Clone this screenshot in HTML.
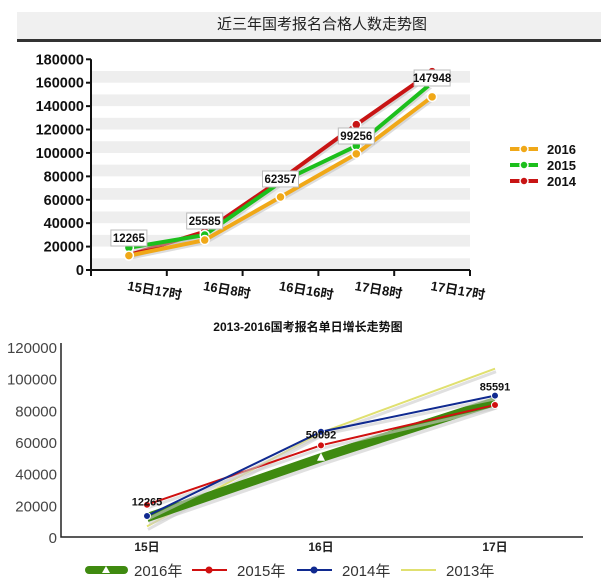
<!DOCTYPE html>
<html><head><meta charset="utf-8"><style>
body{margin:0;background:#fff;}
svg text{font-family:"Liberation Sans","Noto Sans CJK SC",sans-serif;}
</style></head><body>
<svg id="s" width="601" height="582" xmlns="http://www.w3.org/2000/svg">
<rect x="17" y="12" width="584" height="28" fill="#f0f0f0"/>
<rect x="17" y="39" width="584" height="3" fill="#333"/>
<text x="322" y="29" text-anchor="middle" font-size="15" fill="#222">近三年国考报名合格人数走势图</text>
<g id="top"></g>
<text x="308" y="331" text-anchor="middle" font-size="12" font-weight="bold" fill="#111">2013-2016国考报名单日增长走势图</text>
<g id="bot"></g>
</svg>
<script>
// top chart data
const topCats = ["15日17时","16日8时","16日16时","17日8时","17日17时"];
const topYTicks = [0,20000,40000,60000,80000,100000,120000,140000,160000,180000];
const s2016 = [12265,25585,62357,99256,147948];
const s2015 = [19000,29900,75000,106000,160000];
const s2014 = [12800,32700,77000,124200,169500];
const topSeriesNames = ["2016","2015","2014"];
// bottom chart data
const botCats = ["15日","16日","17日"];
const botYTicks = [0,20000,40000,60000,80000,100000,120000];
const b2016 = [12265,50092,85591];
const b2015 = [20400,57900,83400];
const b2014 = [13300,66500,89300];
const b2013 = [6700,65900,106300];
const botSeriesNames = ["2016年","2015年","2014年","2013年"];

const NS="http://www.w3.org/2000/svg";
function mk(p,t,a,txt){const e=document.createElementNS(NS,t);for(const k in a)e.setAttribute(k,a[k]);if(txt!==undefined)e.textContent=txt;p.appendChild(e);return e;}

// ---- top ----
const T=document.getElementById('top');
const tx0=91,tx1=470,ty0=270,ty1=59.3;
const tY=v=>ty0-(v/180000)*(ty0-ty1);
const bw=(tx1-tx0)/topCats.length;
const tX=i=>tx0+bw*(i+0.5);
for(let v=0;v<170000;v+=20000){
 const r=mk(T,'rect',{x:tx0,y:tY(v+10000),width:tx1-tx0,height:tY(v)-tY(v+10000),fill:'#eeeeee'});
 
 
}
let ax=mk(T,'path',{d:`M${tx0} ${ty1}V${ty0}H${tx1}`,stroke:'#111','stroke-width':2,fill:'none'});


topYTicks.forEach(v=>{
 mk(T,'line',{x1:tx0-5,x2:tx0,y1:tY(v),y2:tY(v),stroke:'#111','stroke-width':2});
 const t=mk(T,'text',{x:84,y:tY(v)+5,'text-anchor':'end','font-size':14.5,'font-weight':'bold',fill:'#111'},String(v));
 
 
});
for(let i=0;i<=topCats.length;i++){mk(T,'line',{x1:tx0+bw*i,x2:tx0+bw*i,y1:ty0,y2:ty0+6,stroke:'#111','stroke-width':2});}
topCats.forEach((c,i)=>{
 const t=mk(T,'text',{x:tX(i)-2,y:290,'font-size':13,'font-weight':'bold',fill:'#111',transform:`rotate(10 ${tX(i)-2} 290)`},c);
 
 
});
const tcol=['#f0a818','#1cbf1c','#c81414'];
const tdata=[s2016,s2015,s2014];
[2,1,0].forEach(k=>{
 const d=tdata[k].map((v,i)=>(i?'L':'M')+tX(i)+' '+tY(v)).join('');
 mk(T,'path',{d,stroke:'#bbb','stroke-width':4,fill:'none',transform:'translate(1,2)',opacity:.5});
 const p=mk(T,'path',{d,stroke:tcol[k],'stroke-width':4,fill:'none'});
 
 
 tdata[k].forEach((v,i)=>{
  const c=mk(T,'circle',{cx:tX(i),cy:tY(v),r:4.5,fill:tcol[k],stroke:'#fff','stroke-width':1.5});
  
  
 });
});
s2016.forEach((v,i)=>{
 const cx=tX(i);
 const yy=[238,221,179,136,78][i];
 const g=mk(T,'g',{});
 
 
 mk(g,'rect',{x:cx-18,y:yy-8,width:36,height:16,fill:'#fff',stroke:'#bbb','stroke-width':1});
 mk(g,'text',{x:cx,y:yy+4,'text-anchor':'middle','font-size':11.5,'font-weight':'bold',fill:'#111'},String(v));
});
topSeriesNames.forEach((n,k)=>{
 const y=149+16*k;
 const g=mk(T,'g',{});
 
 
 mk(g,'line',{x1:510,x2:538,y1:y,y2:y,stroke:tcol[k],'stroke-width':4});
 mk(g,'circle',{cx:524,cy:y,r:4,fill:tcol[k],stroke:'#fff','stroke-width':1.5});
 mk(g,'text',{x:547,y:y+5,'font-size':13,'font-weight':'bold',fill:'#111'},n);
});

// ---- bottom ----
const B=document.getElementById('bot');
const bx0=61,bx1=583,by0=537,by1=347;
const bY=v=>by0-(v/120000)*(by0-by1);
const bXs=[147,321,495];
const bX=i=>bXs[0]+(bXs[2]-bXs[0])/(botCats.length-1)*i;
let bax=mk(B,'path',{d:`M${bx0} ${by1-4}V${by0}H${bx1}`,stroke:'#222','stroke-width':1.5,fill:'none'});


botYTicks.forEach(v=>{
 const t=mk(B,'text',{x:57,y:bY(v)+6,'text-anchor':'end','font-size':15,fill:'#444'},String(v));
 
 
});
botCats.forEach((c,i)=>{
 const t=mk(B,'text',{x:bX(i),y:551,'text-anchor':'middle','font-size':12,'font-weight':'bold',fill:'#222'},c);
 
 
});
const bcol=['#3f8a10','#d01010','#102a90','#e0e070'];
const bw2=[9,2,2,2];
const bdata=[b2016,b2015,b2014,b2013];
[3,0,1,2].forEach(k=>{
 const d=bdata[k].map((v,i)=>(i?'L':'M')+bX(i)+' '+bY(v)).join('');
 mk(B,'path',{d,stroke:'#ccc','stroke-width':bw2[k]+1,fill:'none',transform:'translate(1,3)',opacity:.6});
 const p=mk(B,'path',{d,stroke:bcol[k],'stroke-width':bw2[k],fill:'none'});
 
 
 if(k==1||k==2) bdata[k].forEach((v,i)=>{
  const c=mk(B,'circle',{cx:bX(i),cy:bY(v),r:3.5,fill:bcol[k],stroke:'#fff','stroke-width':1});
  
  
 });
});
const tri=mk(B,'path',{d:`M${bX(1)} ${bY(b2016[1])-5}l4 8h-8z`,fill:'#fff'});


const lblY=[bY(b2015[0])+1,bY(b2015[1])-7,bY(b2014[2])-5];
b2016.forEach((v,i)=>{
 const t=mk(B,'text',{x:bX(i),y:lblY[i],'text-anchor':'middle','font-size':11,'font-weight':'bold',fill:'#111'},String(v));
 
 
});
const lx=[89,192,297,401];
botSeriesNames.forEach((n,k)=>{
 const g=mk(B,'g',{});
 
 
 const y=570;
 mk(g,'line',{x1:lx[k],x2:lx[k]+35,y1:y,y2:y,stroke:bcol[k],'stroke-width':k==0?8:2,'stroke-linecap':k==0?'round':'butt'});
 if(k==1||k==2) mk(g,'circle',{cx:lx[k]+17,cy:y,r:3.5,fill:bcol[k]});
 if(k==0) mk(g,'path',{d:`M${lx[k]+17} ${y-4}l4 7h-8z`,fill:'#fff'});
 mk(g,'text',{x:lx[k]+45,y:y+6,'font-size':15,fill:'#333'},n);
});
</script>
</body></html>
